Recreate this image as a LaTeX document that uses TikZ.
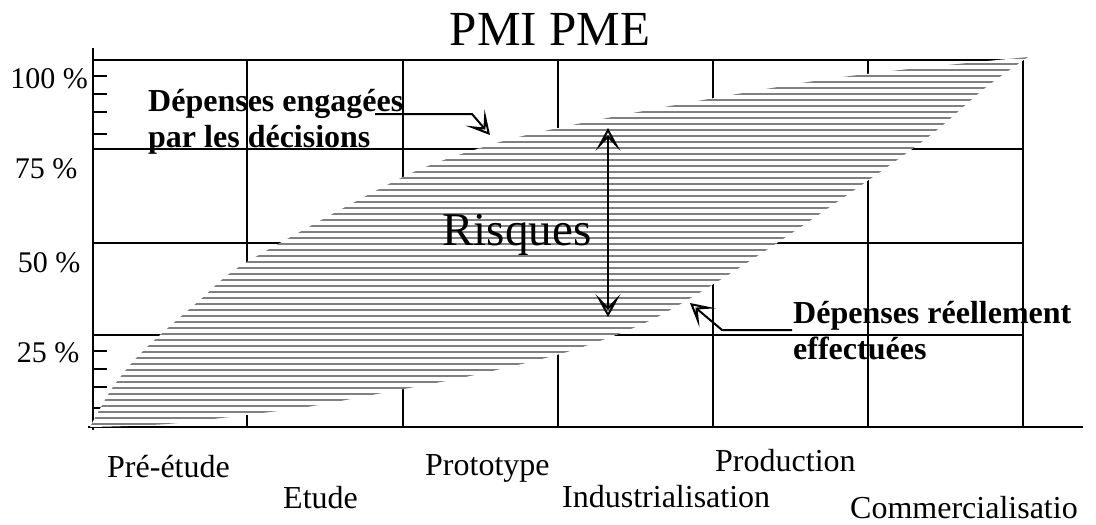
\documentclass[tikz,border=0pt]{standalone}
\usepackage{fontspec}
\setmainfont{Liberation Serif}
\usetikzlibrary{arrows.meta,positioning}

\begin{document}
\begin{tikzpicture}
  [x=1pt, y=-1pt, grid line/.style={line width=2.6pt},
   hatch line/.style={gray, line width=2.2pt},
   big text/.style={font=\fontsize{47}{50}\selectfont, anchor=base,
     inner sep=0pt},
   axis label/.style={font=\fontsize{30}{34}\selectfont, anchor=base,
     inner sep=0pt},
   phase/.style={font=\fontsize{32}{35}\selectfont, anchor=base west,
     inner sep=0pt},
   note/.style={font=\fontsize{32}{35}\selectfont\bfseries,
     anchor=base west, inner sep=0pt},
   hollow/.tip={Stealth[open, length=23pt, width=25pt, inset=13pt]},
   post/.style={-hollow, line width=2pt},
   both post/.style={hollow-hollow, line width=2pt}]

  \useasboundingbox (0,0) rectangle (1096,525);

  % grid and axes
  \draw [grid line] (93,48) -- (93,430);
  \draw [grid line] (88,427) -- (1083,427);
  \foreach \y in {60,149,243,335} \draw [grid line] (93,\y) -- (1023,\y);
  \foreach \x in {247,403,558,713,868,1023} \draw [grid line] (\x,60) -- (\x,427);
  \foreach \y in {76,94,112,134,351,369,387,408} \draw [grid line] (93,\y) -- (107,\y);

  % hatched band
  \begin{scope}
    \clip plot [smooth] coordinates {(90,427) (113,387) (143,351) (200,300)
      (247,262) (403,177) (490,145) (558,128) (670,106) (808,82) (900,70)
      (1028,57)}
    -- plot [smooth] coordinates {(1028,57) (985,88) (937,130) (897,160)
      (837,202) (777,243) (712,285) (647,322) (567,352) (470,376) (377,394)
      (313,406) (270,412) (167,424) (90,427)} -- cycle;
    \fill [white] (80,50) rectangle (1040,430);
    \foreach \y in {58,64,...,424} \draw [hatch line] (80,\y) -- (1040,\y);
  \end{scope}

  \coordinate (EngStart) at (375,114);
  \coordinate (EngKnee) at (472,114);
  \coordinate (EngTip) at (490,135);
  \coordinate (EffStart) at (792,330);
  \coordinate (EffKnee) at (722,330);
  \coordinate (EffTip) at (690,303);
  \coordinate (RiskTop) at (608,128);
  \coordinate (RiskBot) at (608,317);

  \draw [post] (EngStart) -- (EngKnee) -- (EngTip);
  \draw [post] (EffStart) -- (EffKnee) -- (EffTip);
  \draw [both post] (RiskTop) -- (RiskBot);

  \node [big text, font=\fontsize{49}{52}\selectfont] (Title) at (550,45) {PMI PME};
  \node [big text] (Risk) at (517,245) {Risques};

  \node [axis label] (Lab100) at (49,88) {100 \%};
  \node [axis label] (Lab75) at (46,178) {75 \%};
  \node [axis label] (Lab50) at (49,272) {50 \%};
  \node [axis label] (Lab25) at (48,362) {25 \%};

  \node [note] (EngUp) at (148,111) {Dépenses engagées};
  \node [note] (EngLow) at (148,147) {par les décisions};
  \node [note] (EffUp) at (793,323) {Dépenses réellement};
  \node [note] (EffLow) at (793,359) {effectuées};

  \node [phase] (PreEtude) at (107,477) {Pré-étude};
  \node [phase] (Etude) at (283,508) {Etude};
  \node [phase] (Proto) at (425,475) {Prototype};
  \node [phase] (Prod) at (715,471) {Production};
  \node [phase] (Indus) at (562,507) {Industrialisation};
  \node [phase] (Comm) at (850,518) {Commercialisatio};
\end{tikzpicture}
\end{document}
